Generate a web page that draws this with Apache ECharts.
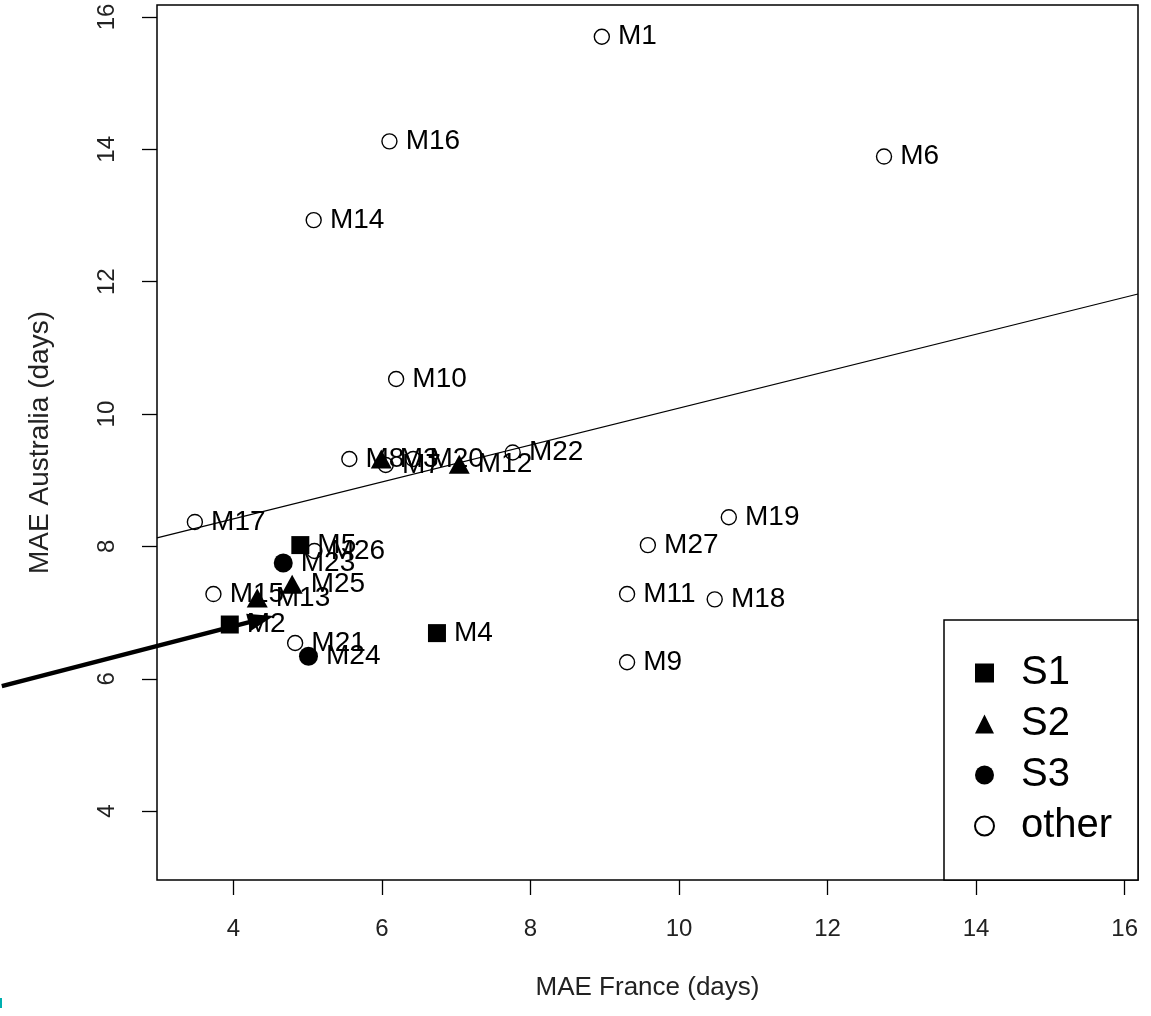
<!DOCTYPE html>
<html>
<head>
<meta charset="utf-8">
<script src="https://cdn.jsdelivr.net/npm/echarts@6/dist/echarts.min.js"></script>
<style>html,body{margin:0;padding:0;background:#fff;}#c{width:1151px;height:1016px;}</style>
</head>
<body>
<div id="c"></div>
<script>
const names  = ['M1','M2','M3','M4','M5','M6','M7','M8','M9','M10','M11','M12','M13','M14','M15','M16','M17','M18','M19','M20','M21','M22','M23','M24','M25','M26','M27'];
const maeFrance    = [8.96,3.95,5.99,6.74,4.90,12.76,6.05,5.56,9.30,6.19,9.30,7.04,4.32,5.08,3.73,6.10,3.48,10.48,10.67,6.42,4.83,7.76,4.67,5.01,4.79,5.09,9.58];
const maeAustralia = [15.70,6.82,9.32,6.69,8.02,13.89,9.23,9.32,6.25,10.53,7.28,9.24,7.22,12.93,7.28,14.12,8.37,7.20,8.44,9.32,6.54,9.42,7.75,6.34,7.43,7.93,8.02];
const groups = ['other','S1','S2','S1','S1','other','other','other','other','other','other','S2','S2','other','other','other','other','other','other','other','other','other','S3','S3','S2','other','other'];
const tickValues = [4,6,8,10,12,14,16];
const fitIntercept = 7.30, fitSlope = 0.279;
const arrowFrom = [0.88,5.89], arrowTo = [4.54,6.95];

const xMin = 2.97, xMax = 16.18, yMin = 2.96, yMax = 16.18;
const FONT = '"Liberation Sans", Arial, sans-serif';

function groupData(g){
  const out = [];
  names.forEach((n,i)=>{ if(groups[i]===g) out.push([maeFrance[i], maeAustralia[i], n]); });
  return out;
}
const labelCfg = {show:true, position:'right', distance:8, fontSize:28, color:'#000', fontFamily:FONT, formatter:p=>p.value[2]};

const chart = echarts.init(document.getElementById('c'));
chart.setOption({
  animation:false,
  backgroundColor:'#fff',
  textStyle:{fontFamily:FONT},
  grid:{left:157, top:5, width:981, height:875, show:true, borderColor:'#000', borderWidth:1.5, backgroundColor:'transparent'},
  xAxis:{type:'value', min:xMin, max:xMax,
    name:'MAE France (days)', nameLocation:'middle', nameGap:95,
    nameTextStyle:{fontSize:26, color:'#222', fontFamily:FONT},
    axisLine:{show:false}, splitLine:{show:false},
    axisTick:{show:true, inside:false, length:15, lineStyle:{color:'#000', width:1.3}, customValues:tickValues},
    axisLabel:{fontSize:24, color:'#222', margin:37, fontFamily:FONT, customValues:tickValues}
  },
  yAxis:{type:'value', min:yMin, max:yMax,
    name:'MAE Australia (days)', nameLocation:'middle', nameGap:103, nameRotate:90,
    nameTextStyle:{fontSize:28, color:'#222', fontFamily:FONT},
    axisLine:{show:false}, splitLine:{show:false},
    axisTick:{show:true, inside:false, length:15, lineStyle:{color:'#000', width:1.3}, customValues:tickValues},
    axisLabel:{fontSize:24, color:'#222', margin:38, rotate:90, fontFamily:FONT, customValues:tickValues}
  },
  legend:{orient:'vertical', left:969, top:648, itemGap:11, itemWidth:19, itemHeight:19,
    data:['S1','S2','S3','other'],
    textStyle:{fontSize:40, color:'#000', fontFamily:FONT, padding:[0,0,0,22]}
  },
  graphic:[
    {type:'rect', shape:{x:944, y:620, width:194, height:260}, style:{fill:'#fff', stroke:'#000', lineWidth:1.5}, z:0, silent:true},
    {type:'rect', shape:{x:0, y:998, width:2, height:10}, style:{fill:'#00b0b0'}, silent:true}
  ],
  series:[
    {name:'fit', type:'line', data:[[xMin, fitIntercept+fitSlope*xMin],[xMax, fitIntercept+fitSlope*xMax]],
      showSymbol:false, symbol:'none', lineStyle:{color:'#000', width:1.2}, z:1, silent:true},
    {name:'other', type:'scatter', data:groupData('other'), symbol:'circle', symbolSize:15,
      itemStyle:{color:'rgba(255,255,255,0)', borderColor:'#000', borderWidth:1.4, opacity:1}, label:labelCfg, z:3},
    {name:'S1', type:'scatter', data:groupData('S1'), symbol:'rect', symbolSize:18,
      itemStyle:{color:'#000', opacity:1}, label:labelCfg, z:3},
    {name:'S2', type:'scatter', data:groupData('S2'), symbol:'triangle', symbolSize:[21,19],
      itemStyle:{color:'#000', opacity:1}, label:labelCfg, z:3},
    {name:'S3', type:'scatter', data:groupData('S3'), symbol:'circle', symbolSize:19,
      itemStyle:{color:'#000', opacity:1}, label:labelCfg, z:3}
  ]
});

// annotation arrow: positions from the chart's own scales
const p0 = chart.convertToPixel({gridIndex:0}, arrowFrom);
const p1 = chart.convertToPixel({gridIndex:0}, arrowTo);
const dx = p1[0]-p0[0], dy = p1[1]-p0[1], L = Math.hypot(dx,dy);
const ux = dx/L, uy = dy/L, nx = -uy, ny = ux;
const headLen = 26, headHalf = 9;
const base = [p1[0]-ux*headLen, p1[1]-uy*headLen];
chart.setOption({graphic:[
  {type:'rect', shape:{x:944, y:620, width:194, height:260}, style:{fill:'#fff', stroke:'#000', lineWidth:1.5}, z:0, silent:true},
  {type:'rect', shape:{x:0, y:998, width:2, height:10}, style:{fill:'#00b0b0'}, silent:true},
  {type:'line', shape:{x1:p0[0], y1:p0[1], x2:base[0]+ux*2, y2:base[1]+uy*2}, style:{stroke:'#000', lineWidth:4.5}, z:10, silent:true},
  {type:'polygon', shape:{points:[[p1[0],p1[1]],[base[0]+nx*headHalf, base[1]+ny*headHalf],[base[0]-nx*headHalf, base[1]-ny*headHalf]]}, style:{fill:'#000'}, z:10, silent:true}
]}, {replaceMerge:['graphic']});
</script>
</body>
</html>
